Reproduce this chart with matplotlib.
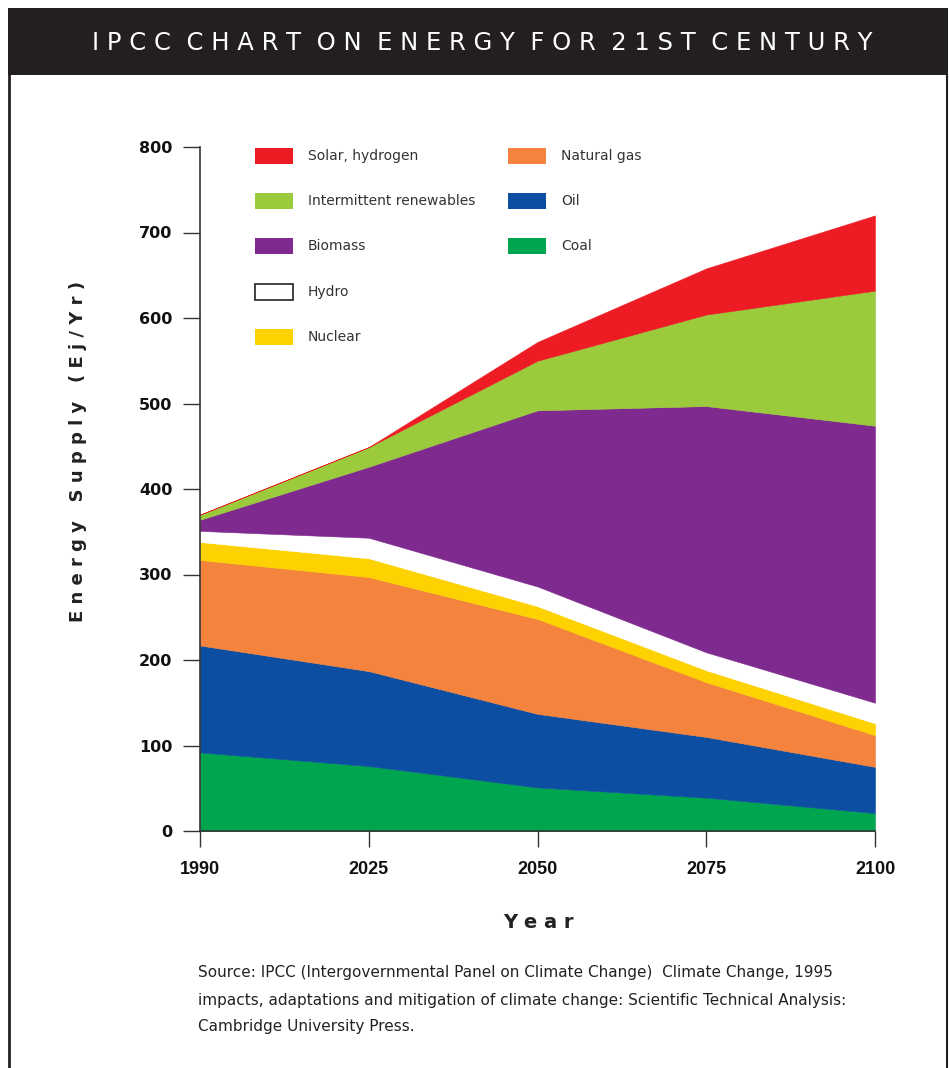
import matplotlib.pyplot as plt
import numpy as np
from matplotlib.patches import Rectangle
from matplotlib.lines import Line2D

# data (Ej/Yr, layer thickness)
years = ['1990', '2025', '2050', '2075', '2100']
coal = [92, 76, 51, 39, 21]
oil = [125, 111, 86, 71, 54]
natural_gas = [100, 110, 111, 64, 37]
nuclear = [21, 22, 15, 14, 14]
hydro = [13, 24, 23, 21, 24]
biomass = [13, 83, 206, 288, 324]
intermittent = [6, 23, 58, 107, 158]
solar = [0, 0, 22, 54, 88]

labels = ['Coal', 'Oil', 'Natural gas', 'Nuclear', 'Hydro', 'Biomass',
          'Intermittent renewables', 'Solar, hydrogen']
colors = ['#00A54F', '#0C4EA1', '#F3833D', '#FDD200', '#FFFFFF', '#7F2A8E',
          '#9BCA3C', '#ED1C24']

W, H = 949, 1068
fig = plt.figure(figsize=(W / 100, H / 100), dpi=100)


def fx(px):
    return px / W


def fy(py):
    return 1 - py / H


# header bar and frame
fig.add_artist(Rectangle((fx(8), fy(75)), fx(948) - fx(8), fy(8) - fy(75),
                         transform=fig.transFigure, facecolor='#231F20',
                         edgecolor='none'))
fig.add_artist(Line2D([fx(9), fx(9)], [fy(75), 0], transform=fig.transFigure,
                      color='#231F20', lw=2))
fig.add_artist(Line2D([fx(947), fx(947)], [fy(75), 0], transform=fig.transFigure,
                      color='#231F20', lw=1.5))

title = 'IPCC CHART ON ENERGY FOR 21ST CENTURY'
spaced = '  '.join(' '.join(w) for w in title.split(' '))
fig.text(fx(482), fy(43), spaced, color='white', fontsize=17.5,
         ha='center', va='center')

ax = fig.add_axes([fx(200), fy(831), fx(875) - fx(200), fy(147) - fy(831)])
x = np.arange(len(years))
ax.stackplot(x, coal, oil, natural_gas, nuclear, hydro, biomass, intermittent,
             solar, colors=colors, edgecolor='face', linewidth=0.4)
ax.set_xlim(0, 4)
ax.set_ylim(0, 800)
ax.set_xticks(x)
ax.set_xticklabels(years, family='Liberation Sans', fontweight='bold',
                   fontsize=13, color='#111111')
ax.set_yticks(range(0, 801, 100))
ax.set_yticklabels([str(v) for v in range(0, 801, 100)], fontweight='bold',
                   fontsize=11.5, color='#111111')
ax.tick_params(axis='y', length=12, width=1, color='#333333', pad=8)
ax.tick_params(axis='x', length=11.5, width=1, color='#333333', pad=10)
for s in ['top', 'right']:
    ax.spines[s].set_visible(False)
for s in ['left', 'bottom']:
    ax.spines[s].set_color('#333333')
    ax.spines[s].set_linewidth(1.2)

fig.text(fx(78), fy(452), ' '.join('Energy Supply (Ej/Yr)'),
         rotation=90, ha='center', va='center', fontsize=13, fontweight='bold',
         color='#222222')
fig.text(fx(538), fy(922), ' '.join('Year'), ha='center', va='center',
         fontsize=14, fontweight='bold', color='#222222')

# legend, two columns drawn by hand
col1 = ['Solar, hydrogen', 'Intermittent renewables', 'Biomass', 'Hydro', 'Nuclear']
col2 = ['Natural gas', 'Oil', 'Coal']
rows = [156, 201, 246, 292, 337]
for names, px0 in [(col1, 255), (col2, 508)]:
    for name, py in zip(names, rows):
        c = colors[labels.index(name)]
        ec = '#222222' if name == 'Hydro' else 'none'
        fig.add_artist(Rectangle((fx(px0), fy(py + 8)), fx(38), 16 / H,
                                 transform=fig.transFigure, facecolor=c,
                                 edgecolor=ec, lw=1.2))
        fig.text(fx(px0 + 53), fy(py), name, fontsize=10, va='center',
                 ha='left', color='#333333')

source = ['Source: IPCC (Intergovernmental Panel on Climate Change)  Climate Change, 1995',
          'impacts, adaptations and mitigation of climate change: Scientific Technical Analysis:',
          'Cambridge University Press.']
for i, line in enumerate(source):
    fig.text(fx(198), fy(973 + 27 * i), line, fontsize=11,
             color='#222222', va='center')

fig.savefig('out.png', dpi=100, facecolor='white')
